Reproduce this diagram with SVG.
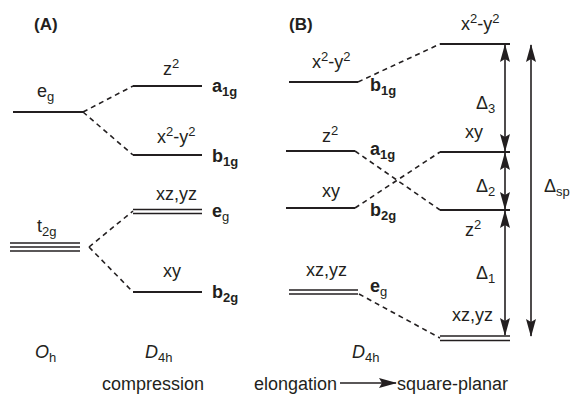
<svg xmlns="http://www.w3.org/2000/svg" width="572" height="402" viewBox="0 0 572 402">
<style>
text{font-family:"Liberation Sans",Arial,sans-serif;font-size:18px;fill:#231f20}
.b{font-weight:bold}
.lv{stroke:#231f20;stroke-width:2;fill:none}
.lt{stroke:#231f20;stroke-width:1.5;fill:none}
.ds{stroke:#231f20;stroke-width:1.6;fill:none;stroke-dasharray:5,4}
.ar{stroke:#231f20;stroke-width:1.6;fill:none}
.s{font-size:13px}
</style>
<defs>
<marker id="ah" viewBox="0 0 18 10" refX="17" refY="5" markerWidth="18" markerHeight="10" markerUnits="userSpaceOnUse" orient="auto-start-reverse">
<path d="M0,0 L18,5 L0,10 L3,5 Z" fill="#231f20"/>
</marker>
</defs>
<text x="34" y="30" class="b" style="font-size:17px">(A)</text>
<text x="289" y="30" class="b" style="font-size:17px">(B)</text>
<g id="A-eg"><line class="lv" x1="13" y1="112" x2="83" y2="112"/><text x="37" y="97">e<tspan class="s" dy="4">g</tspan></text></g>
<g id="A-t2g"><line class="lt" x1="10" y1="243" x2="80" y2="243"/><line class="lt" x1="10" y1="247" x2="80" y2="247"/><line class="lt" x1="10" y1="251" x2="80" y2="251"/><text x="37" y="232">t<tspan class="s" dy="4">2g</tspan></text></g>
<g id="A-z2"><line class="lv" x1="133" y1="86" x2="202" y2="86"/><text x="163" y="75">z<tspan class="s" dy="-7">2</tspan></text><text x="212" y="92" class="b">a<tspan class="s" dy="4">1g</tspan></text></g>
<g id="A-x2y2"><line class="lv" x1="133" y1="155" x2="202" y2="155"/><text x="157" y="143">x<tspan class="s" dy="-7">2</tspan><tspan dy="7">-y</tspan><tspan class="s" dy="-7">2</tspan></text><text x="212" y="162" class="b">b<tspan class="s" dy="4">1g</tspan></text></g>
<g id="A-xzyz"><line class="lt" x1="133" y1="209.5" x2="202" y2="209.5"/><line class="lt" x1="133" y1="213.5" x2="202" y2="213.5"/><text x="156" y="200">xz,yz</text><text x="212" y="217" class="b">e<tspan class="s" style="font-weight:normal" dy="4">g</tspan></text></g>
<g id="A-xy"><line class="lv" x1="133" y1="292" x2="202" y2="292"/><text x="163" y="277">xy</text><text x="212" y="298" class="b">b<tspan class="s" dy="4">2g</tspan></text></g>
<g id="B-x2y2"><line class="lv" x1="289" y1="82" x2="358" y2="82"/><text x="312" y="68">x<tspan class="s" dy="-7">2</tspan><tspan dy="7">-y</tspan><tspan class="s" dy="-7">2</tspan></text><text x="370" y="91" class="b">b<tspan class="s" dy="4">1g</tspan></text></g>
<g id="B-z2"><line class="lv" x1="286" y1="151" x2="355" y2="151"/><text x="322" y="142">z<tspan class="s" dy="-7">2</tspan></text><text x="370" y="155" class="b">a<tspan class="s" dy="4">1g</tspan></text></g>
<g id="B-xy"><line class="lv" x1="286" y1="208" x2="355" y2="208"/><text x="322" y="197">xy</text><text x="370" y="216" class="b">b<tspan class="s" dy="4">2g</tspan></text></g>
<g id="B-xzyz"><line class="lt" x1="289" y1="290" x2="358" y2="290"/><line class="lt" x1="289" y1="294" x2="358" y2="294"/><text x="306" y="276">xz,yz</text><text x="370" y="292" class="b">e<tspan class="s" style="font-weight:normal" dy="4">g</tspan></text></g>
<g id="R-x2y2"><line class="lv" x1="440" y1="44" x2="510" y2="44"/><text x="461" y="30">x<tspan class="s" dy="-7">2</tspan><tspan dy="7">-y</tspan><tspan class="s" dy="-7">2</tspan></text></g>
<g id="R-xy"><line class="lv" x1="440" y1="152" x2="510" y2="152"/><text x="465" y="138">xy</text></g>
<g id="R-z2"><line class="lv" x1="440" y1="210" x2="510" y2="210"/><text x="465" y="236">z<tspan class="s" dy="-7">2</tspan></text></g>
<g id="R-xzyz"><line class="lt" x1="440" y1="336" x2="510" y2="336"/><line class="lt" x1="440" y1="340.5" x2="510" y2="340.5"/><text x="452" y="321">xz,yz</text></g>
<g id="labels">
<text x="476" y="109">Δ<tspan class="s" dy="4">3</tspan></text>
<text x="476" y="192">Δ<tspan class="s" dy="4">2</tspan></text>
<text x="476" y="279">Δ<tspan class="s" dy="4">1</tspan></text>
<text x="544" y="192">Δ<tspan class="s" dy="4">sp</tspan></text>
<text x="35" y="358" style="font-style:italic">O<tspan class="s" style="font-style:normal" dy="4">h</tspan></text>
<text x="145" y="358" style="font-style:italic">D<tspan class="s" style="font-style:normal" dy="4">4h</tspan></text>
<text x="352" y="358" style="font-style:italic">D<tspan class="s" style="font-style:normal" dy="4">4h</tspan></text>
<text x="102" y="390">compression</text>
<text x="254" y="390">elongation</text>
<text x="397" y="390">square-planar</text>
</g>
<g id="connectors">
<path class="ds" d="M83,112 L133,86 M83,112 L133,155"/>
<path class="ds" d="M89,247 L133,211 M89,247 L133,292"/>
<path class="ds" d="M358,82 L440,44"/>
<path class="ds" d="M355,151 L440,210"/>
<path class="ds" d="M355,208 L440,152"/>
<path class="ds" d="M359,294 L440,338"/>
<line class="ar" x1="505" y1="45" x2="505" y2="151" marker-start="url(#ah)" marker-end="url(#ah)"/>
<line class="ar" x1="505" y1="153" x2="505" y2="209" marker-start="url(#ah)" marker-end="url(#ah)"/>
<line class="ar" x1="505" y1="211" x2="505" y2="335" marker-start="url(#ah)" marker-end="url(#ah)"/>
<line class="ar" x1="531" y1="45" x2="531" y2="336" marker-start="url(#ah)" marker-end="url(#ah)"/>
<line class="ar" x1="340" y1="383" x2="396" y2="383" marker-end="url(#ah)"/>
</g>
</svg>
